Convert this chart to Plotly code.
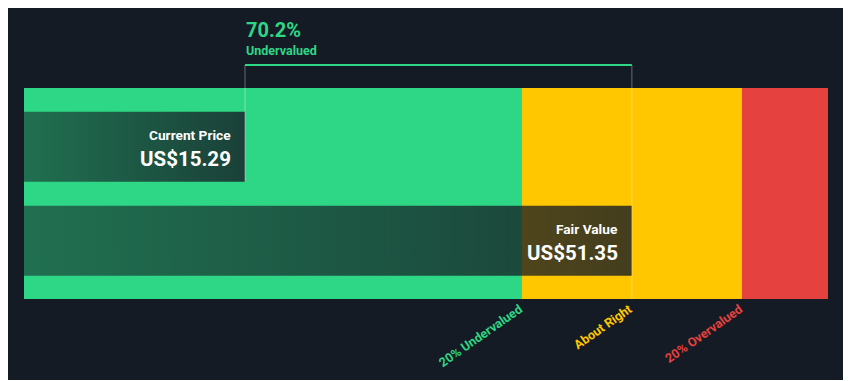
import plotly.graph_objects as go

# ---- data ----
current_price = 15.29
fair_value = 51.35
currency = "US$"
zone_labels = ["20% Undervalued", "About Right", "20% Overvalued"]
zone_factors = [0.8, 1.2]          # zone boundaries as multiples of fair value
x_range = [-5.31, 69.63]

# ---- style ----
BG = "#151b25"
GREEN = "#2ed785"
YELLOW = "#ffc700"
RED = "#e5423f"
LINE = "rgba(255,255,255,0.35)"
FONT = "Roboto"

lo = fair_value * zone_factors[0]
hi = fair_value * zone_factors[1]
zone_starts = [x_range[0], lo, hi]
zone_ends = [lo, hi, x_range[1]]
zone_colors = [GREEN, YELLOW, RED]

# y layout (bars at y=1 current, y=0 fair)
bar_w = 0.745
zone_bot, zone_top = -0.62, 1.625
bracket_y = 1.87

fig = go.Figure()

for s, e, c in zip(zone_starts, zone_ends, zone_colors):
    fig.add_trace(go.Bar(
        orientation="h", y=[(zone_bot + zone_top) / 2], x=[e - s], base=[s],
        width=[zone_top - zone_bot], marker=dict(color=c, line=dict(width=0)),
        hoverinfo="skip", showlegend=False))

values = [current_price, fair_value]
ypos = [1, 0]
for v, yc in zip(values, ypos):
    x0 = x_range[0]
    fig.add_trace(go.Scatter(
        x=[x0, v, v, x0, x0],
        y=[yc - bar_w / 2, yc - bar_w / 2, yc + bar_w / 2, yc + bar_w / 2, yc - bar_w / 2],
        mode="lines", line=dict(width=0), fill="toself",
        fillgradient=dict(type="horizontal",
                          colorscale=[[0, "rgba(21,27,37,0.55)"], [1, "rgba(21,27,37,0.80)"]]),
        hoverinfo="skip", showlegend=False))

# bracket
fig.add_trace(go.Scatter(x=[current_price, current_price], y=[1 - bar_w / 2, bracket_y],
                         mode="lines", line=dict(color=LINE, width=1), hoverinfo="skip", showlegend=False))
fig.add_trace(go.Scatter(x=[fair_value, fair_value], y=[zone_bot, bracket_y],
                         mode="lines", line=dict(color=LINE, width=1), hoverinfo="skip", showlegend=False))
fig.add_trace(go.Scatter(x=[current_price, fair_value], y=[bracket_y, bracket_y],
                         mode="lines", line=dict(color=GREEN, width=2), hoverinfo="skip", showlegend=False))

pct = (fair_value - current_price) / fair_value * 100
ann = []
ann.append(dict(x=current_price, y=bracket_y, xref="x", yref="y", text=f"<b>{pct:.1f}%</b>",
                xanchor="left", yanchor="middle", yshift=35, xshift=-1, showarrow=False,
                font=dict(family=FONT, size=20, color=GREEN)))
ann.append(dict(x=current_price, y=bracket_y, xref="x", yref="y", text="<b>Undervalued</b>",
                xanchor="left", yanchor="middle", yshift=14, xshift=-1, showarrow=False,
                font=dict(family=FONT, size=12.5, color=GREEN)))
for v, yc, lab in zip(values, ypos, ["Current Price", "Fair Value"]):
    ann.append(dict(x=v, y=yc, xref="x", yref="y", text=f"<b>{lab}</b>", xanchor="right",
                    yanchor="middle", xshift=-12, yshift=12, showarrow=False,
                    font=dict(family=FONT, size=13.7, color="white")))
    ann.append(dict(x=v, y=yc, xref="x", yref="y", text=f"<b>{currency}{v:.2f}</b>", xanchor="right",
                    yanchor="middle", xshift=-12, yshift=-12, showarrow=False,
                    font=dict(family=FONT, size=20.5, color="white")))
for xb, lab, c in zip([lo, fair_value, hi], zone_labels, zone_colors):
    ann.append(dict(x=xb, y=0, xref="x", yref="paper", text=f"<b>{lab}</b>", xanchor="right",
                    yanchor="top", yshift=1, xshift=6, textangle=-35, showarrow=False,
                    font=dict(family=FONT, size=12.6, color=c)))

W, H = 835, 372
ml, mr, mt, mb = 16, 15, 12, 81
ph = H - mt - mb
fig.update_layout(
    width=W, height=H, margin=dict(l=ml, r=mr, t=mt, b=mb),
    paper_bgcolor=BG, plot_bgcolor=BG,
    barmode="overlay", bargap=0,
    xaxis=dict(range=x_range, visible=False, fixedrange=True),
    yaxis=dict(range=[zone_bot, zone_bot + (zone_top - zone_bot) * ph / 211],
               visible=False, fixedrange=True),
    annotations=ann,
    showlegend=False,
)
fig.write_html("out.html")
